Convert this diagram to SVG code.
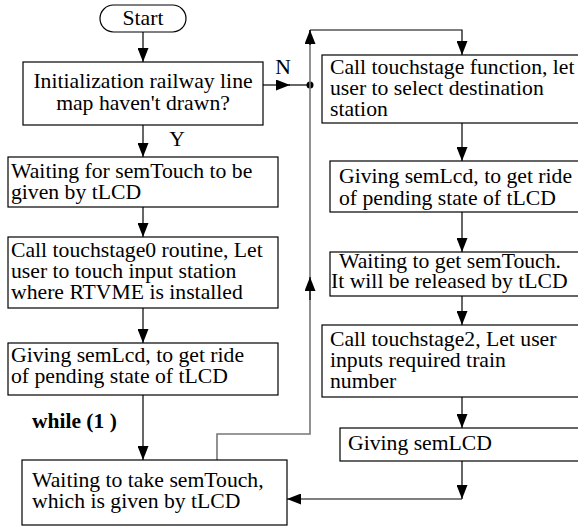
<svg xmlns="http://www.w3.org/2000/svg" width="578" height="527" viewBox="0 0 578 527">
<defs>
<marker id="ah" markerUnits="userSpaceOnUse" markerWidth="14" markerHeight="11" refX="14" refY="5.5" orient="auto">
<path d="M0,0 L14,5.5 L0,11 z" fill="#000"/>
</marker>
<style>
.box{fill:#fff;stroke:#000;stroke-width:1.2}
.t{font-family:"Liberation Serif","Times New Roman",serif;font-size:21.7px;fill:#000}
.c{fill:none;stroke:#000;stroke-width:1.2}
.g{fill:none;stroke:#777;stroke-width:1.6}
</style>
</defs>
<rect width="578" height="527" fill="#fff"/>
<g id="connectors">
<path class="c" d="M143,32 V62" marker-end="url(#ah)"/>
<path class="c" d="M263,85 H290" marker-end="url(#ah)"/>
<path class="c" d="M289,85 H310"/>
<circle cx="310" cy="85" r="3.5" fill="#000"/>
<path class="c" d="M143,125 V157" marker-end="url(#ah)"/>
<path class="c" d="M143,207 V237" marker-end="url(#ah)"/>
<path class="c" d="M143,308 V343" marker-end="url(#ah)"/>
<path class="c" d="M143,395 V460" marker-end="url(#ah)"/>
<path class="g" d="M217,460 V434 H310 V30"/>
<path class="c" d="M310,300 V277" marker-end="url(#ah)"/>
<path class="c" d="M310,45 V30" marker-end="url(#ah)"/>
<path class="c" d="M310,30 H462 V55" marker-end="url(#ah)"/>
<path class="c" d="M462,123 V161" marker-end="url(#ah)"/>
<path class="c" d="M462,212 V252" marker-end="url(#ah)"/>
<path class="c" d="M462,296 V325" marker-end="url(#ah)"/>
<path class="c" d="M462,397 V428" marker-end="url(#ah)"/>
<path class="c" d="M462,461 V499" marker-end="url(#ah)"/>
<path class="c" d="M462,499 H287" marker-end="url(#ah)"/>
</g>
<g id="start">
<rect class="box" x="100" y="5" width="86" height="27" rx="13.5"/>
<text class="t" x="143" y="25" text-anchor="middle">Start</text>
</g>
<g id="init">
<rect class="box" x="23" y="62" width="240" height="63"/>
<text class="t" x="143" y="88" text-anchor="middle">Initialization railway line</text>
<text class="t" x="143" y="110" text-anchor="middle">map haven't drawn?</text>
</g>
<text class="t" x="283" y="74" text-anchor="middle">N</text>
<text class="t" x="177" y="146" text-anchor="middle">Y</text>
<g id="wait1">
<rect class="box" x="8" y="157" width="270" height="50"/>
<text class="t" x="11" y="178">Waiting for semTouch to be</text>
<text class="t" x="11" y="199">given by tLCD</text>
</g>
<g id="call0">
<rect class="box" x="8" y="237" width="270" height="71"/>
<text class="t" x="11" y="257">Call touchstage0 routine, Let</text>
<text class="t" x="11" y="278">user to touch input station</text>
<text class="t" x="11" y="299">where RTVME is installed</text>
</g>
<g id="give1">
<rect class="box" x="8" y="343" width="270" height="52"/>
<text class="t" x="11" y="362">Giving semLcd, to get ride</text>
<text class="t" x="11" y="383">of pending state of tLCD</text>
</g>
<text x="32" y="428" style="font-family:'Liberation Serif','Times New Roman',serif;font-size:21.5px;font-weight:bold">while (1 )</text>
<g id="wait2">
<rect class="box" x="22" y="460" width="265" height="65"/>
<text class="t" x="32" y="487">Waiting to take semTouch,</text>
<text class="t" x="32" y="508">which is given by tLCD</text>
</g>
<g id="call1">
<rect class="box" x="322" y="55" width="262" height="68"/>
<text class="t" x="330" y="74">Call touchstage function, let</text>
<text class="t" x="330" y="95">user to select destination</text>
<text class="t" x="330" y="116">station</text>
</g>
<g id="give2">
<rect class="box" x="330" y="161" width="254" height="51"/>
<text class="t" x="339" y="183">Giving semLcd, to get ride</text>
<text class="t" x="339" y="205">of pending state of tLCD</text>
</g>
<g id="wait3">
<rect class="box" x="330" y="252" width="254" height="44"/>
<text class="t" x="339" y="268">Waiting to get semTouch.</text>
<text class="t" x="331" y="288">It will be released by tLCD</text>
</g>
<g id="call2">
<rect class="box" x="322" y="325" width="262" height="72"/>
<text class="t" x="330" y="346">Call touchstage2, Let user</text>
<text class="t" x="330" y="367">inputs required train</text>
<text class="t" x="330" y="388">number</text>
</g>
<g id="give3">
<rect class="box" x="340" y="428" width="244" height="33"/>
<text class="t" x="348" y="450">Giving semLCD</text>
</g>
</svg>
